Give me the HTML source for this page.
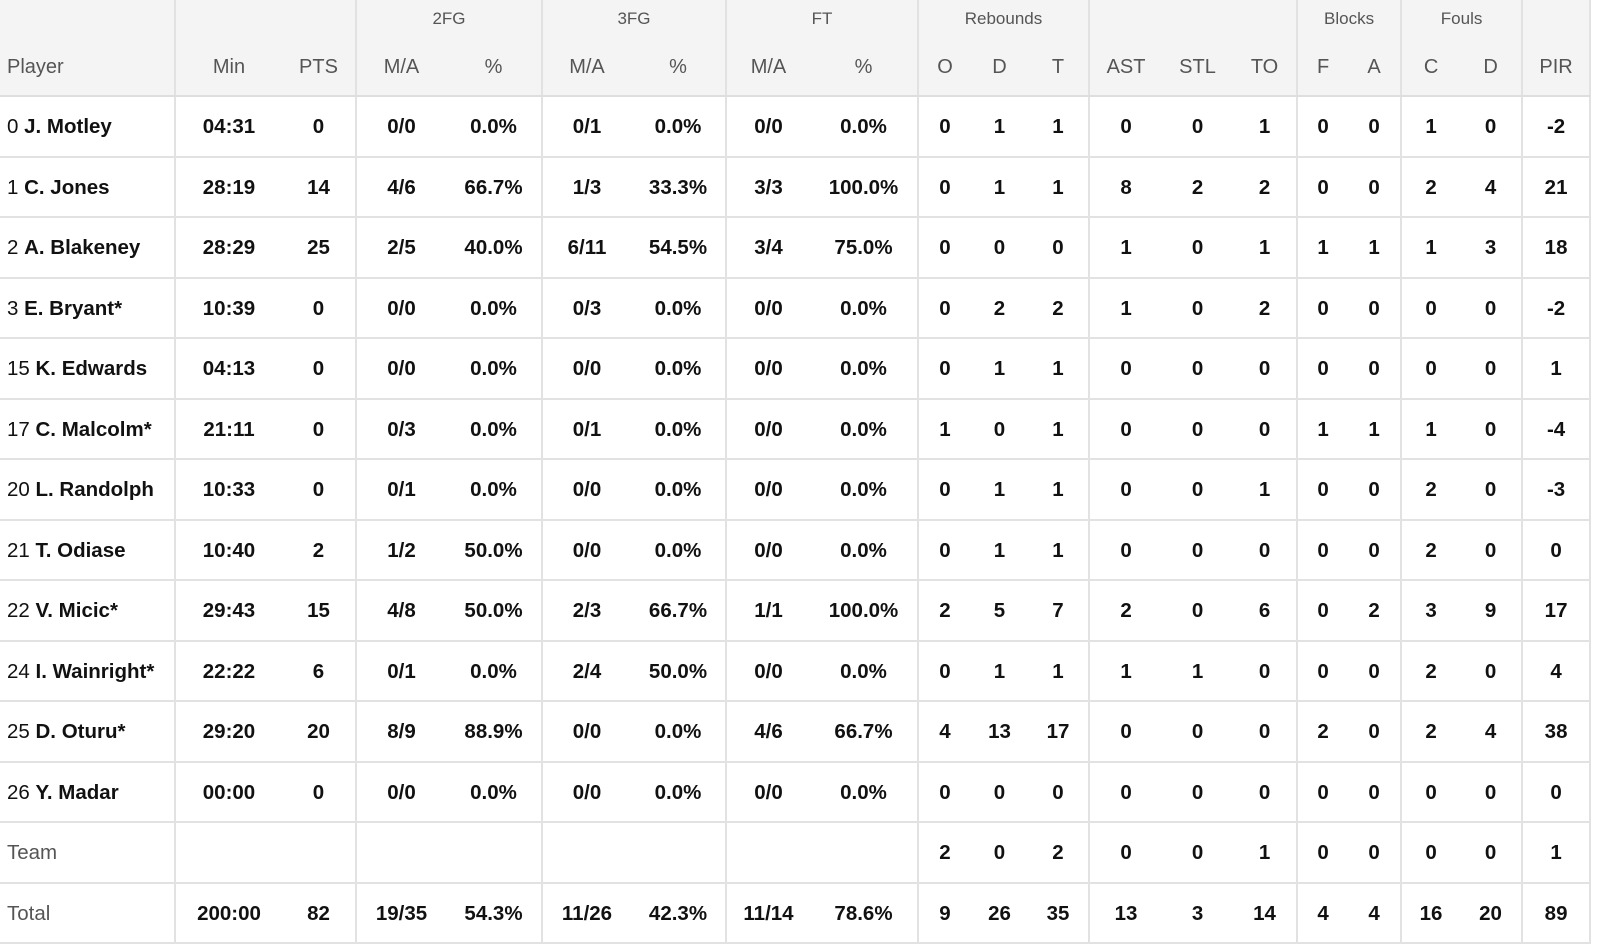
<!DOCTYPE html>
<html><head><meta charset="utf-8"><style>
html,body{margin:0;padding:0;background:#fff;width:1617px;height:947px;overflow:hidden;}
table{border-collapse:collapse;table-layout:fixed;width:1590px;font-family:"Liberation Sans",sans-serif;}
td,th{padding:0;text-align:center;white-space:nowrap;overflow:hidden;}
thead th{background:#f4f4f4;color:#555;font-weight:normal;}
thead tr.g th{height:38px;font-size:17px;vertical-align:middle;}
thead tr.s th{height:55px;padding-top:2px;font-size:20px;border-bottom:2px solid #dedede;}
tbody td{height:56.5px;border-bottom:2px solid #e2e2e2;font-size:20.5px;font-weight:bold;color:#111;padding-top:2px;}
.b{border-right:2px solid #e2e2e2;}
.p{text-align:left;padding-left:7px;font-weight:normal;}
.p b{font-weight:bold;}
.gr{color:#555;font-weight:normal;}
</style></head><body>
<table>
<colgroup><col style="width:175px"><col style="width:107px"><col style="width:74px"><col style="width:90px"><col style="width:96px"><col style="width:89px"><col style="width:95px"><col style="width:84px"><col style="width:108px"><col style="width:53px"><col style="width:57px"><col style="width:61px"><col style="width:73px"><col style="width:71px"><col style="width:64px"><col style="width:51px"><col style="width:53px"><col style="width:59px"><col style="width:62px"><col style="width:68px"></colgroup>
<thead>
<tr class="g"><th class="b"></th><th colspan="2" class="b"></th><th colspan="2" class="b">2FG</th><th colspan="2" class="b">3FG</th><th colspan="2" class="b">FT</th><th colspan="3" class="b">Rebounds</th><th colspan="3" class="b"></th><th colspan="2" class="b">Blocks</th><th colspan="2" class="b">Fouls</th><th class="b"></th></tr>
<tr class="s"><th class="b" style="text-align:left;padding-left:7px">Player</th><th>Min</th><th class="b">PTS</th><th>M/A</th><th class="b">%</th><th>M/A</th><th class="b">%</th><th>M/A</th><th class="b">%</th><th>O</th><th>D</th><th class="b">T</th><th>AST</th><th>STL</th><th class="b">TO</th><th>F</th><th class="b">A</th><th>C</th><th class="b">D</th><th class="b">PIR</th></tr>
</thead>
<tbody>
<tr><td class="p b">0 <b>J. Motley</b></td><td>04:31</td><td class="b">0</td><td>0/0</td><td class="b">0.0%</td><td>0/1</td><td class="b">0.0%</td><td>0/0</td><td class="b">0.0%</td><td>0</td><td>1</td><td class="b">1</td><td>0</td><td>0</td><td class="b">1</td><td>0</td><td class="b">0</td><td>1</td><td class="b">0</td><td class="b">-2</td></tr>
<tr><td class="p b">1 <b>C. Jones</b></td><td>28:19</td><td class="b">14</td><td>4/6</td><td class="b">66.7%</td><td>1/3</td><td class="b">33.3%</td><td>3/3</td><td class="b">100.0%</td><td>0</td><td>1</td><td class="b">1</td><td>8</td><td>2</td><td class="b">2</td><td>0</td><td class="b">0</td><td>2</td><td class="b">4</td><td class="b">21</td></tr>
<tr><td class="p b">2 <b>A. Blakeney</b></td><td>28:29</td><td class="b">25</td><td>2/5</td><td class="b">40.0%</td><td>6/11</td><td class="b">54.5%</td><td>3/4</td><td class="b">75.0%</td><td>0</td><td>0</td><td class="b">0</td><td>1</td><td>0</td><td class="b">1</td><td>1</td><td class="b">1</td><td>1</td><td class="b">3</td><td class="b">18</td></tr>
<tr><td class="p b">3 <b>E. Bryant*</b></td><td>10:39</td><td class="b">0</td><td>0/0</td><td class="b">0.0%</td><td>0/3</td><td class="b">0.0%</td><td>0/0</td><td class="b">0.0%</td><td>0</td><td>2</td><td class="b">2</td><td>1</td><td>0</td><td class="b">2</td><td>0</td><td class="b">0</td><td>0</td><td class="b">0</td><td class="b">-2</td></tr>
<tr><td class="p b">15 <b>K. Edwards</b></td><td>04:13</td><td class="b">0</td><td>0/0</td><td class="b">0.0%</td><td>0/0</td><td class="b">0.0%</td><td>0/0</td><td class="b">0.0%</td><td>0</td><td>1</td><td class="b">1</td><td>0</td><td>0</td><td class="b">0</td><td>0</td><td class="b">0</td><td>0</td><td class="b">0</td><td class="b">1</td></tr>
<tr><td class="p b">17 <b>C. Malcolm*</b></td><td>21:11</td><td class="b">0</td><td>0/3</td><td class="b">0.0%</td><td>0/1</td><td class="b">0.0%</td><td>0/0</td><td class="b">0.0%</td><td>1</td><td>0</td><td class="b">1</td><td>0</td><td>0</td><td class="b">0</td><td>1</td><td class="b">1</td><td>1</td><td class="b">0</td><td class="b">-4</td></tr>
<tr><td class="p b">20 <b>L. Randolph</b></td><td>10:33</td><td class="b">0</td><td>0/1</td><td class="b">0.0%</td><td>0/0</td><td class="b">0.0%</td><td>0/0</td><td class="b">0.0%</td><td>0</td><td>1</td><td class="b">1</td><td>0</td><td>0</td><td class="b">1</td><td>0</td><td class="b">0</td><td>2</td><td class="b">0</td><td class="b">-3</td></tr>
<tr><td class="p b">21 <b>T. Odiase</b></td><td>10:40</td><td class="b">2</td><td>1/2</td><td class="b">50.0%</td><td>0/0</td><td class="b">0.0%</td><td>0/0</td><td class="b">0.0%</td><td>0</td><td>1</td><td class="b">1</td><td>0</td><td>0</td><td class="b">0</td><td>0</td><td class="b">0</td><td>2</td><td class="b">0</td><td class="b">0</td></tr>
<tr><td class="p b">22 <b>V. Micic*</b></td><td>29:43</td><td class="b">15</td><td>4/8</td><td class="b">50.0%</td><td>2/3</td><td class="b">66.7%</td><td>1/1</td><td class="b">100.0%</td><td>2</td><td>5</td><td class="b">7</td><td>2</td><td>0</td><td class="b">6</td><td>0</td><td class="b">2</td><td>3</td><td class="b">9</td><td class="b">17</td></tr>
<tr><td class="p b">24 <b>I. Wainright*</b></td><td>22:22</td><td class="b">6</td><td>0/1</td><td class="b">0.0%</td><td>2/4</td><td class="b">50.0%</td><td>0/0</td><td class="b">0.0%</td><td>0</td><td>1</td><td class="b">1</td><td>1</td><td>1</td><td class="b">0</td><td>0</td><td class="b">0</td><td>2</td><td class="b">0</td><td class="b">4</td></tr>
<tr><td class="p b">25 <b>D. Oturu*</b></td><td>29:20</td><td class="b">20</td><td>8/9</td><td class="b">88.9%</td><td>0/0</td><td class="b">0.0%</td><td>4/6</td><td class="b">66.7%</td><td>4</td><td>13</td><td class="b">17</td><td>0</td><td>0</td><td class="b">0</td><td>2</td><td class="b">0</td><td>2</td><td class="b">4</td><td class="b">38</td></tr>
<tr><td class="p b">26 <b>Y. Madar</b></td><td>00:00</td><td class="b">0</td><td>0/0</td><td class="b">0.0%</td><td>0/0</td><td class="b">0.0%</td><td>0/0</td><td class="b">0.0%</td><td>0</td><td>0</td><td class="b">0</td><td>0</td><td>0</td><td class="b">0</td><td>0</td><td class="b">0</td><td>0</td><td class="b">0</td><td class="b">0</td></tr>
<tr><td class="p b gr">Team</td><td></td><td class="b"></td><td></td><td class="b"></td><td></td><td class="b"></td><td></td><td class="b"></td><td>2</td><td>0</td><td class="b">2</td><td>0</td><td>0</td><td class="b">1</td><td>0</td><td class="b">0</td><td>0</td><td class="b">0</td><td class="b">1</td></tr>
<tr><td class="p b gr">Total</td><td>200:00</td><td class="b">82</td><td>19/35</td><td class="b">54.3%</td><td>11/26</td><td class="b">42.3%</td><td>11/14</td><td class="b">78.6%</td><td>9</td><td>26</td><td class="b">35</td><td>13</td><td>3</td><td class="b">14</td><td>4</td><td class="b">4</td><td>16</td><td class="b">20</td><td class="b">89</td></tr>
</tbody>
</table>
</body></html>
